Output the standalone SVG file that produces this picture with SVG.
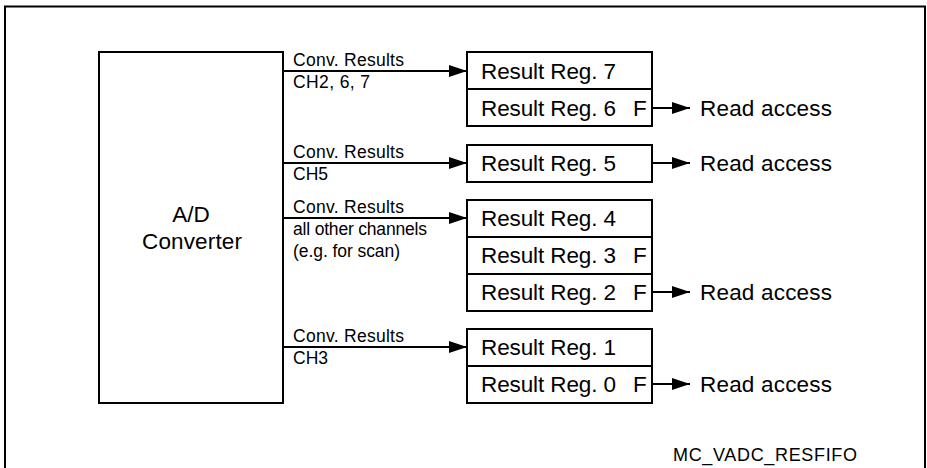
<svg xmlns="http://www.w3.org/2000/svg" width="927" height="468" viewBox="0 0 927 468">
<defs>
<style>
.box{fill:#fff;stroke:#000;stroke-width:2}
.ln{fill:none;stroke:#000;stroke-width:2}
.t{font-family:"Liberation Sans",Arial,sans-serif;fill:#000}
.reg{font-size:22.5px}
.lab{font-size:17.5px}
</style>
<marker id="ah" viewBox="0 0 18 12" refX="18" refY="6" markerWidth="18" markerHeight="12" markerUnits="userSpaceOnUse" orient="auto">
<path d="M0,0 L18,6 L0,12 Z" fill="#000"/>
</marker>
</defs>
<rect width="927" height="468" fill="#fff"/>
<path class="ln" d="M5,468 V6.5 H925 V468" stroke-width="2.2"/>

<g id="adc">
<rect class="box" x="99" y="52" width="184" height="351"/>
<text class="t reg" x="191" y="222" text-anchor="middle">A/D</text>
<text class="t reg" x="192" y="249" text-anchor="middle" textLength="100" lengthAdjust="spacing">Converter</text>
</g>

<g id="fifo76">
<rect class="box" x="467" y="52" width="185" height="74"/>
<line class="ln" x1="467" y1="89" x2="652" y2="89"/>
<text class="t reg" x="481" y="79" textLength="135" lengthAdjust="spacing">Result Reg. 7</text>
<text class="t reg" x="481" y="116" textLength="135" lengthAdjust="spacing">Result Reg. 6</text>
<text class="t reg" x="633" y="116">F</text>
</g>

<g id="fifo5">
<rect class="box" x="467" y="145" width="185" height="37"/>
<text class="t reg" x="481" y="171" textLength="135" lengthAdjust="spacing">Result Reg. 5</text>
</g>

<g id="fifo432">
<rect class="box" x="467" y="200" width="185" height="111"/>
<line class="ln" x1="467" y1="237" x2="652" y2="237"/>
<line class="ln" x1="467" y1="274" x2="652" y2="274"/>
<text class="t reg" x="481" y="226" textLength="135" lengthAdjust="spacing">Result Reg. 4</text>
<text class="t reg" x="481" y="263" textLength="135" lengthAdjust="spacing">Result Reg. 3</text>
<text class="t reg" x="633" y="263">F</text>
<text class="t reg" x="481" y="300" textLength="135" lengthAdjust="spacing">Result Reg. 2</text>
<text class="t reg" x="633" y="300">F</text>
</g>

<g id="fifo10">
<rect class="box" x="467" y="329" width="185" height="74"/>
<line class="ln" x1="467" y1="366" x2="652" y2="366"/>
<text class="t reg" x="481" y="355" textLength="135" lengthAdjust="spacing">Result Reg. 1</text>
<text class="t reg" x="481" y="392" textLength="135" lengthAdjust="spacing">Result Reg. 0</text>
<text class="t reg" x="633" y="392">F</text>
</g>

<g id="connectors">
<line class="ln" x1="283" y1="71" x2="467" y2="71" marker-end="url(#ah)"/>
<line class="ln" x1="283" y1="163" x2="467" y2="163" marker-end="url(#ah)"/>
<line class="ln" x1="283" y1="218" x2="467" y2="218" marker-end="url(#ah)"/>
<line class="ln" x1="283" y1="347" x2="467" y2="347" marker-end="url(#ah)"/>
<line class="ln" x1="652" y1="108" x2="690" y2="108" marker-end="url(#ah)"/>
<line class="ln" x1="652" y1="163" x2="690" y2="163" marker-end="url(#ah)"/>
<line class="ln" x1="652" y1="292" x2="690" y2="292" marker-end="url(#ah)"/>
<line class="ln" x1="652" y1="384" x2="690" y2="384" marker-end="url(#ah)"/>
</g>

<g id="labels">
<text class="t lab" x="293" y="66" textLength="111" lengthAdjust="spacing">Conv. Results</text>
<text class="t lab" x="293" y="88" textLength="77" lengthAdjust="spacing">CH2, 6, 7</text>
<text class="t lab" x="293" y="158" textLength="111" lengthAdjust="spacing">Conv. Results</text>
<text class="t lab" x="293" y="180">CH5</text>
<text class="t lab" x="293" y="213" textLength="111" lengthAdjust="spacing">Conv. Results</text>
<text class="t lab" x="293" y="235" textLength="134" lengthAdjust="spacing">all other channels</text>
<text class="t lab" x="293" y="257" textLength="107" lengthAdjust="spacing">(e.g. for scan)</text>
<text class="t lab" x="293" y="342" textLength="111" lengthAdjust="spacing">Conv. Results</text>
<text class="t lab" x="293" y="364">CH3</text>
<text class="t reg" x="700" y="116" textLength="132" lengthAdjust="spacing">Read access</text>
<text class="t reg" x="700" y="171" textLength="132" lengthAdjust="spacing">Read access</text>
<text class="t reg" x="700" y="300" textLength="132" lengthAdjust="spacing">Read access</text>
<text class="t reg" x="700" y="392" textLength="132" lengthAdjust="spacing">Read access</text>
<text class="t" x="673" y="461" font-size="18" textLength="184" lengthAdjust="spacing">MC_VADC_RESFIFO</text>
</g>
</svg>
